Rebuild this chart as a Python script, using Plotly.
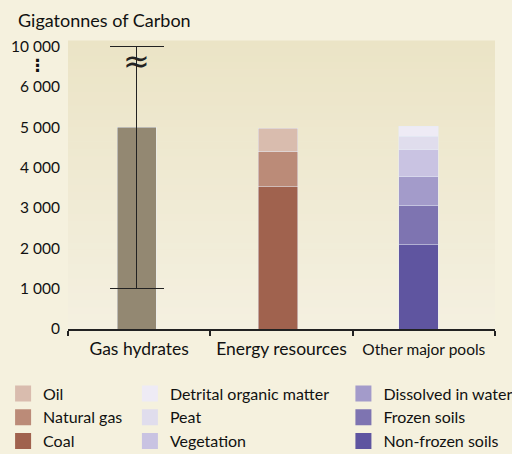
import plotly.graph_objects as go

# Carbon pools (gigatonnes of carbon)
categories = ["Gas hydrates", "Energy resources", "Other major pools"]
tick_labels = ["Gas hydrates", "Energy resources",
               '<span style="font-size:15.5px">Other major pools</span>']

hydrates_value = 5000
hydrates_low = 1000
hydrates_high = 10000

energy_names = ["Coal", "Natural gas", "Oil"]
energy_values = [3530, 870, 575]
energy_colors = ["#a0624e", "#bb8b78", "#d9bcae"]

pool_names = ["Non-frozen soils", "Frozen soils", "Dissolved in water",
              "Vegetation", "Peat", "Detrital organic matter"]
pool_values = [2090, 970, 720, 670, 325, 250]
pool_colors = ["#5f55a0", "#7e74b1", "#a39bca", "#c9c3e2", "#e0dded", "#eeebf5"]

y_ticks = [0, 1000, 2000, 3000, 4000, 5000, 6000, 10000]
y_ticktext = ["0", "1 000", "2 000", "3 000", "4 000", "5 000", "6 000", "10 000"]

FONT = "Lato"
BW = 0.275  # bar width, category units


def brk(v):
    # broken axis: above 6 000 the scale is squeezed 4:1
    return v if v <= 6000 else 6000 + (v - 6000) / 4


fig = go.Figure()

fig.add_trace(go.Bar(
    x=[categories[0]], y=[hydrates_value], marker_color="#938872",
    width=BW, offset=-BW / 2 - 0.018, showlegend=False,
    error_y=dict(type="data", symmetric=False,
                 array=[brk(hydrates_high) - brk(hydrates_value)],
                 arrayminus=[brk(hydrates_value) - brk(hydrates_low)],
                 color="#222222", thickness=1.6, width=27),
))

for n, v, c in zip(energy_names, energy_values, energy_colors):
    fig.add_trace(go.Bar(x=[categories[1]], y=[v], marker_color=c, name=n,
                         width=BW, offset=-BW / 2 - 0.025, showlegend=False))
for n, v, c in zip(pool_names, pool_values, pool_colors):
    fig.add_trace(go.Bar(x=[categories[2]], y=[v], marker_color=c, name=n,
                         width=BW, offset=-BW / 2 - 0.038, showlegend=False))

# legend entries, three columns
columns = [
    (["Oil", "Natural gas", "Coal"], ["#d9bcae", "#bb8b78", "#a0624e"], "legend"),
    (["Detrital organic matter", "Peat", "Vegetation"], ["#eeebf5", "#e0dded", "#c9c3e2"], "legend2"),
    (["Dissolved in water", "Frozen soils", "Non-frozen soils"], ["#a39bca", "#7e74b1", "#5f55a0"], "legend3"),
]
for names, colors, lg in columns:
    for n, c in zip(names, colors):
        fig.add_trace(go.Scatter(x=[None], y=[None], mode="markers", name=n,
                                 marker=dict(symbol="square", size=16, color=c),
                                 legend=lg, showlegend=True))

# gradient background of plot area
shapes = []
nb = 40
top = (235, 228, 198)
bot = (244, 240, 224)
for i in range(nb):
    t = i / (nb - 1)
    col = tuple(round(bot[k] + (top[k] - bot[k]) * t) for k in range(3))
    shapes.append(dict(type="rect", xref="x domain", yref="y domain",
                       x0=0, x1=1, y0=i / nb, y1=(i + 1) / nb + 0.002,
                       fillcolor="rgb(%d,%d,%d)" % col, line_width=0, layer="below"))

leg = dict(font=dict(family=FONT, size=16, color="#111111"), bgcolor="rgba(0,0,0,0)",
           yanchor="top", xanchor="left", tracegroupgap=0, itemsizing="trace",
           traceorder="normal")

fig.update_layout(
    width=512, height=454,
    margin=dict(l=68, r=17, t=41, b=125, autoexpand=False),
    paper_bgcolor="#f5f1de", plot_bgcolor="#f0ebd6",
    barmode="stack", bargap=0.7,
    font=dict(family=FONT, size=15, color="#111111"),
    shapes=shapes,
    xaxis=dict(type="category", categoryorder="array", categoryarray=categories,
               tickmode="array", tickvals=categories, ticktext=tick_labels,
               range=[-0.5, 2.5], tickson="boundaries", ticks="outside",
               ticklen=5, tickwidth=2, tickcolor="#222222",
               showline=True, linecolor="#222222", linewidth=2,
               ticklabelstandoff=3,
               tickfont=dict(size=17.5), showgrid=False),
    yaxis=dict(range=[0, 7140], tickmode="array",
               tickvals=[brk(v) for v in y_ticks], ticktext=y_ticktext,
               showgrid=False, zeroline=False, showline=False, ticks="",
               ticklabelstandoff=7,
               tickfont=dict(size=15.5)),
    legend=dict(leg, x=-0.152, y=-0.165),
    legend2=dict(leg, x=0.145, y=-0.165),
    legend3=dict(leg, x=0.645, y=-0.165),
    annotations=[
        dict(text="Gigatonnes of Carbon", xref="paper", yref="paper",
             x=-0.122, y=1.0, xanchor="left", yanchor="bottom", yshift=8,
             showarrow=False, font=dict(size=18)),
        dict(text="≈", x=categories[0], xshift=-2.5, y=brk(8600), showarrow=False,
             font=dict(family="DejaVu Sans", size=32, color="#222222")),
        dict(text="<b>⋮</b>", xref="paper", x=-0.096, y=brk(8200), showarrow=False,
             font=dict(family="DejaVu Sans", size=17, color="#111111")),
    ],
)

fig.write_html("out.html", config={"displayModeBar": False},
               post_script="document.body.style.margin='0';")
